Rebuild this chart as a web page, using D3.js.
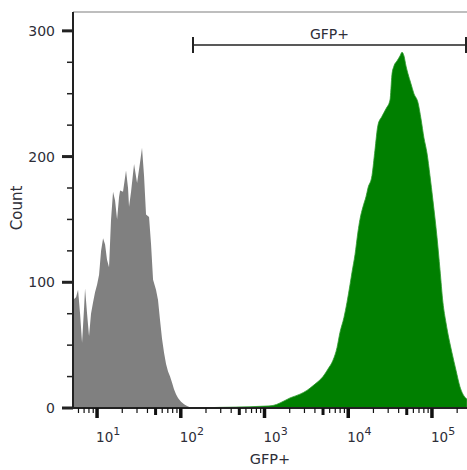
<!DOCTYPE html>
<html>
<head>
<meta charset="utf-8">
<script src="https://cdn.jsdelivr.net/npm/d3@7"></script>
<style>
  body { margin: 0; background: #fff; }
  text { font-family: "DejaVu Sans", Verdana, sans-serif; fill: #2e2e38; }
</style>
</head>
<body>
<div id="chart"></div>
<script>
// fluorescence (GFP channel) and event counts
var grayFl = [5.16, 5.61, 5.93, 6.27, 6.62, 7.00, 7.19, 7.60, 8.02, 8.47, 8.95, 9.46, 10.0,
  10.57, 11.17, 11.80, 12.47, 13.15, 13.90, 14.69, 15.52, 16.41, 17.34, 18.32, 18.84,
  20.42, 22.18, 23.44, 24.10, 25.47, 27.67, 30.06, 32.58, 34.43, 36.39, 38.46, 41.78,
  44.16, 46.67, 50.58, 53.46, 56.49, 59.70, 63.10, 66.68, 70.47, 74.47, 78.70, 82.99,
  87.70, 92.68, 100.7, 109.4, 118.9, 128.8, 147.9];
var grayCount = [86, 88, 94, 75, 52, 80, 95, 75, 57, 75, 84, 92, 98,
  106, 125, 135, 130, 118, 112, 150, 172, 165, 150, 168, 173,
  172, 189, 175, 160, 172, 194, 179, 195, 207, 185, 154, 152,
  130, 102, 94, 86, 70, 55, 44, 35, 29, 25, 20, 15,
  11, 8, 5, 3, 1.5, 0.5, 0];

var greenFl = [147.9, 294.4, 671.4, 1014, 1262, 1531, 2015, 2655, 3215, 4008, 4997,
  5731, 6577, 7345, 7962, 8892, 9661, 10495, 11092, 12050, 13062, 13804, 14997,
  16293, 17219, 19231, 20845, 22646, 25293, 28249, 31551, 33267, 35156, 38194,
  41495, 43853, 46345, 48978, 51642, 56104, 60954, 68077, 73961, 80168, 87096,
  94624, 102802, 114815, 124738, 135207, 146893, 159588, 173380, 193642, 215774,
  234423, 261818];
var greenCount = [0, 0.5, 1, 1.5, 2, 4, 8, 11, 14, 19, 25,
  31, 38, 48, 60, 72, 84, 98, 108, 122, 140, 150, 160,
  168, 175, 185, 205, 225, 232, 238, 245, 265, 272, 276,
  280, 283, 280, 272, 266, 258, 250, 243, 230, 215, 203,
  185, 165, 136, 110, 84, 68, 55, 44, 30, 17,
  11, 7];

var yTicks = [0, 100, 200, 300];
var decades = [1, 2, 3, 4, 5];
var gateRange = [140, 262144];
var gateLabel = "GFP+";
var xTitle = "GFP+";
var yTitle = "Count";

var svgWidth = 467;
var svgHeight = 470;
var margin = { top: 12, right: 0, bottom: 62, left: 73 };
var width = svgWidth - margin.left - margin.right;
var height = svgHeight - margin.top - margin.bottom;

var svg = d3.select("#chart")
  .append("svg")
  .attr("width", svgWidth)
  .attr("height", svgHeight);

var chartGroup = svg.append("g")
  .attr("transform", `translate(${margin.left}, ${margin.top})`);

var xScale = d3.scaleLog()
  .domain([5.16, 262144])
  .range([0, width]);

var yScale = d3.scaleLinear()
  .domain([0, 315])
  .range([height, 0]);

chartGroup.append("clipPath")
  .attr("id", "plotClip")
  .append("rect")
  .attr("width", width)
  .attr("height", height + 1);

var grayData = grayFl.map((d, i) => ({ x: d, y: grayCount[i] }));
var greenData = greenFl.map((d, i) => ({ x: d, y: greenCount[i] }));

var grayArea = d3.area()
  .x(d => xScale(d.x))
  .y0(yScale(0))
  .y1(d => yScale(d.y))
  .curve(d3.curveLinear);

var greenArea = d3.area()
  .x(d => xScale(d.x))
  .y0(yScale(0))
  .y1(d => yScale(d.y))
  .curve(d3.curveMonotoneX);

var plot = chartGroup.append("g").attr("clip-path", "url(#plotClip)");

plot.append("path")
  .datum(grayData)
  .attr("d", grayArea)
  .attr("fill", "#808080");

plot.append("path")
  .datum(greenData)
  .attr("d", greenArea)
  .attr("fill", "#007f00")
  .attr("stroke", "#2f9a2f")
  .attr("stroke-width", 0.8);

// top frame line
chartGroup.append("line")
  .attr("x1", 0).attr("x2", width)
  .attr("y1", 0).attr("y2", 0)
  .attr("stroke", "#a8a8a8")
  .attr("stroke-width", 1.5);

// y axis
var yMinor = d3.range(0, 301, 25);
var yAxisG = chartGroup.append("g");
yAxisG.append("line")
  .attr("x1", 0).attr("x2", 0)
  .attr("y1", 0).attr("y2", height + 1)
  .attr("stroke", "#222")
  .attr("stroke-width", 2);
yAxisG.selectAll(".ytick")
  .data(yMinor)
  .enter()
  .append("line")
  .attr("x1", d => yTicks.includes(d) ? -11 : -6)
  .attr("x2", 0)
  .attr("y1", d => yScale(d))
  .attr("y2", d => yScale(d))
  .attr("stroke", "#222")
  .attr("stroke-width", d => yTicks.includes(d) ? 3 : 1.5);
yAxisG.selectAll(".ylabel")
  .data(yTicks)
  .enter()
  .append("text")
  .attr("x", -18)
  .attr("y", d => yScale(d))
  .attr("dy", "0.36em")
  .attr("text-anchor", "end")
  .style("font-size", "14px")
  .text(d => d);

// x axis (log, minor ticks at 2..9 of each decade)
var xMinor = [];
[0, 1, 2, 3, 4, 5].forEach(function(p) {
  d3.range(1, 10).forEach(function(m) {
    var v = m * Math.pow(10, p);
    if (v >= 5.16 && v <= 262144) xMinor.push({ v: v, m: m });
  });
});
var xAxisG = chartGroup.append("g")
  .attr("transform", `translate(0, ${height})`);
xAxisG.append("line")
  .attr("x1", -10).attr("x2", width)
  .attr("y1", 0).attr("y2", 0)
  .attr("stroke", "#222")
  .attr("stroke-width", 2);
xAxisG.selectAll(".xtick")
  .data(xMinor)
  .enter()
  .append("line")
  .attr("x1", d => xScale(d.v))
  .attr("x2", d => xScale(d.v))
  .attr("y1", 0)
  .attr("y2", d => d.m === 1 ? 10 : (d.m === 5 ? 7 : 5))
  .attr("stroke", "#111")
  .attr("stroke-width", d => d.m === 1 ? 3.5 : (d.m === 5 ? 3 : 1.2));

var xLabels = xAxisG.selectAll(".xlabel")
  .data(decades)
  .enter()
  .append("text")
  .attr("x", d => xScale(Math.pow(10, d)) - 1)
  .attr("y", 34)
  .attr("text-anchor", "start")
  .style("font-size", "13.5px");
xLabels.append("tspan").text("10");
xLabels.append("tspan")
  .attr("dy", -7)
  .style("font-size", "11px")
  .text(d => d);

// axis titles
chartGroup.append("text")
  .attr("x", 197)
  .attr("y", height + 56)
  .attr("text-anchor", "middle")
  .style("font-size", "14.5px")
  .text(xTitle);

chartGroup.append("text")
  .attr("transform", "rotate(-90)")
  .attr("x", -196)
  .attr("y", -51)
  .attr("text-anchor", "middle")
  .style("font-size", "15px")
  .text(yTitle);

// gate bar
var gateY = 33;
var gx0 = xScale(gateRange[0]);
var gx1 = width - 1;
var gate = chartGroup.append("g");
gate.append("line")
  .attr("x1", gx0).attr("x2", gx1)
  .attr("y1", gateY).attr("y2", gateY)
  .attr("stroke", "#222").attr("stroke-width", 1.5);
gate.selectAll(".cap")
  .data([gx0, gx1])
  .enter()
  .append("line")
  .attr("x1", d => d).attr("x2", d => d)
  .attr("y1", gateY - 8).attr("y2", gateY + 8)
  .attr("stroke", "#222").attr("stroke-width", 2);
gate.append("text")
  .attr("x", (gx0 + gx1) / 2)
  .attr("y", gateY - 6)
  .attr("text-anchor", "middle")
  .style("font-size", "14px")
  .text(gateLabel);
</script>
</body>
</html>
